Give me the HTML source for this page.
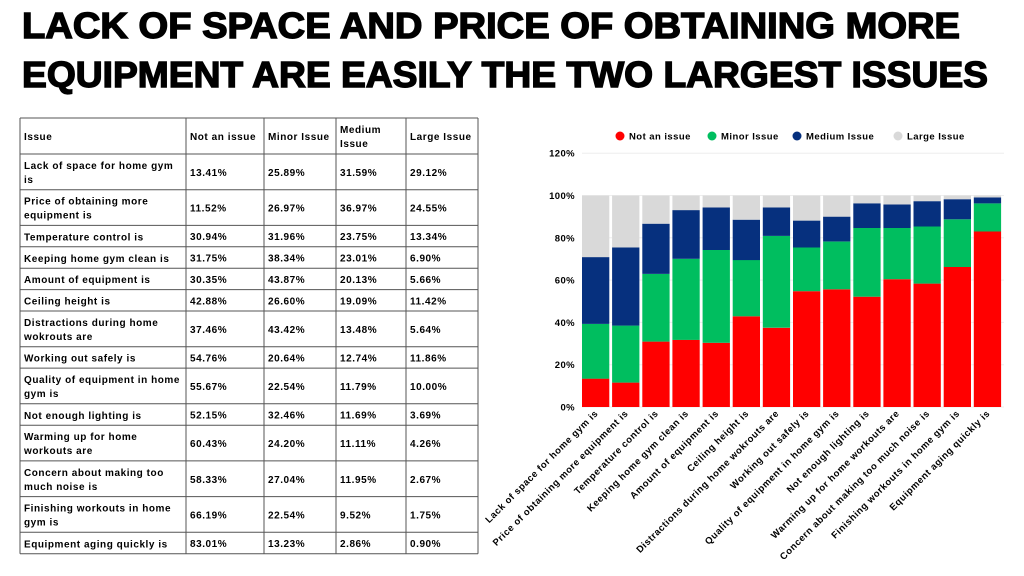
<!DOCTYPE html>
<html><head><meta charset="utf-8"><style>
html,body{margin:0;padding:0;background:#fff;width:1024px;height:576px;overflow:hidden}
svg{display:block;font-family:"Liberation Sans",sans-serif}
</style></head><body>
<svg id="s" width="1024" height="576" viewBox="0 0 1024 576" xmlns="http://www.w3.org/2000/svg">
<text x="22" y="38" font-size="36" font-weight="bold" textLength="938" lengthAdjust="spacingAndGlyphs" stroke="#000" stroke-width="1.4">LACK OF SPACE AND PRICE OF OBTAINING MORE</text>
<text x="22" y="87" font-size="36" font-weight="bold" textLength="966" lengthAdjust="spacingAndGlyphs" stroke="#000" stroke-width="1.4">EQUIPMENT ARE EASILY THE TWO LARGEST ISSUES</text>
<g id="g"></g>
</svg>
<script>
var d=[["Lack of space for home gym|is","Lack of space for home gym is",13.41,25.89,31.59,29.12],
["Price of obtaining more|equipment is","Price of obtaining more equipment is",11.52,26.97,36.97,24.55],
["Temperature control is","Temperature control is",30.94,31.96,23.75,13.34],
["Keeping home gym clean is","Keeping home gym clean is",31.75,38.34,23.01,6.90],
["Amount of equipment is","Amount of equipment is",30.35,43.87,20.13,5.66],
["Ceiling height is","Ceiling height is",42.88,26.60,19.09,11.42],
["Distractions during home|wokrouts are","Distractions during home wokrouts are",37.46,43.42,13.48,5.64],
["Working out safely is","Working out safely is",54.76,20.64,12.74,11.86],
["Quality of equipment in home|gym is","Quality of equipment in home gym is",55.67,22.54,11.79,10.00],
["Not enough lighting is","Not enough lighting is",52.15,32.46,11.69,3.69],
["Warming up for home|workouts are","Warming up for home workouts are",60.43,24.20,11.11,4.26],
["Concern about making too|much noise is","Concern about making too much noise is",58.33,27.04,11.95,2.67],
["Finishing workouts in home|gym is","Finishing workouts in home gym is",66.19,22.54,9.52,1.75],
["Equipment aging quickly is","Equipment aging quickly is",83.01,13.23,2.86,0.90]];
var h='';
var cx=[20,186,264,336,406,478];
var y=118;
function t(x,y,s){return '<text x="'+x+'" y="'+y+'" font-size="10" letter-spacing="0.55" font-weight="bold">'+s+'</text>';}
function line(a,b,c,e){return '<line x1="'+a+'" y1="'+b+'" x2="'+c+'" y2="'+e+'" stroke="#555" stroke-width="1"/>';}
var hh=36;
h+=line(cx[0],y,cx[5],y);
var hdr=["Issue","Not an issue","Minor Issue","Medium|Issue","Large Issue"];
for(var i=0;i<5;i++){var s=hdr[i].split('|');
 if(s.length>1){h+=t(cx[i]+4,y+15,s[0]);h+=t(cx[i]+4,y+29,s[1]);}else h+=t(cx[i]+4,y+22,s[0]);}
y+=hh;h+=line(cx[0],y,cx[5],y);
d.forEach(function(r){var s=r[0].split('|');var rh=s.length>1?35.7:21.4;
 if(s.length>1){h+=t(cx[0]+4,y+15,s[0]);h+=t(cx[0]+4,y+29,s[1]);}else h+=t(cx[0]+4,y+15,s[0]);
 for(var k=0;k<4;k++)h+=t(cx[k+1]+4,y+rh/2+4,r[k+2].toFixed(2)+'%');
 y+=rh;h+=line(cx[0],y,cx[5],y);});
for(var i=0;i<6;i++)h+=line(cx[i],118,cx[i],y);
var y0=407,sc=2.115,x0=582,st=30.14,bw=27.3;
var col=["#ff0000","#00be5f","#06307e","#d9d9d9"];
[0,20,40,60,80,100,120].forEach(function(v){var yy=y0-v*sc;
 h+='<line x1="582" x2="1004" y1="'+yy+'" y2="'+yy+'" stroke="#eee" stroke-width="1"/>';
 h+='<text x="575" y="'+(yy+3.5)+'" font-size="9.5" letter-spacing="0.4" font-weight="bold" text-anchor="end">'+v+'%</text>';});
d.forEach(function(r,i){var x=x0+i*st,b=y0;
 for(var k=0;k<4;k++){var hv=r[k+2]*sc;h+='<rect x="'+x.toFixed(1)+'" y="'+(b-hv).toFixed(1)+'" width="'+bw+'" height="'+hv.toFixed(1)+'" fill="'+col[k]+'"/>';b-=hv;}
 var c=x+bw/2+3;
 h+='<text transform="translate('+c.toFixed(1)+',414) rotate(-45)" font-size="9.5" letter-spacing="0.55" font-weight="bold" text-anchor="end">'+r[1]+'</text>';});
var lg=[["Not an issue",620],["Minor Issue",712],["Medium Issue",797],["Large Issue",898]];
lg.forEach(function(l,i){h+='<circle cx="'+l[1]+'" cy="136" r="4.5" fill="'+col[i]+'"/>';
 h+='<text x="'+(l[1]+9)+'" y="139.5" font-size="9.5" letter-spacing="0.45" font-weight="bold">'+l[0]+'</text>';});
document.getElementById('g').innerHTML=h;
</script>
</body></html>
